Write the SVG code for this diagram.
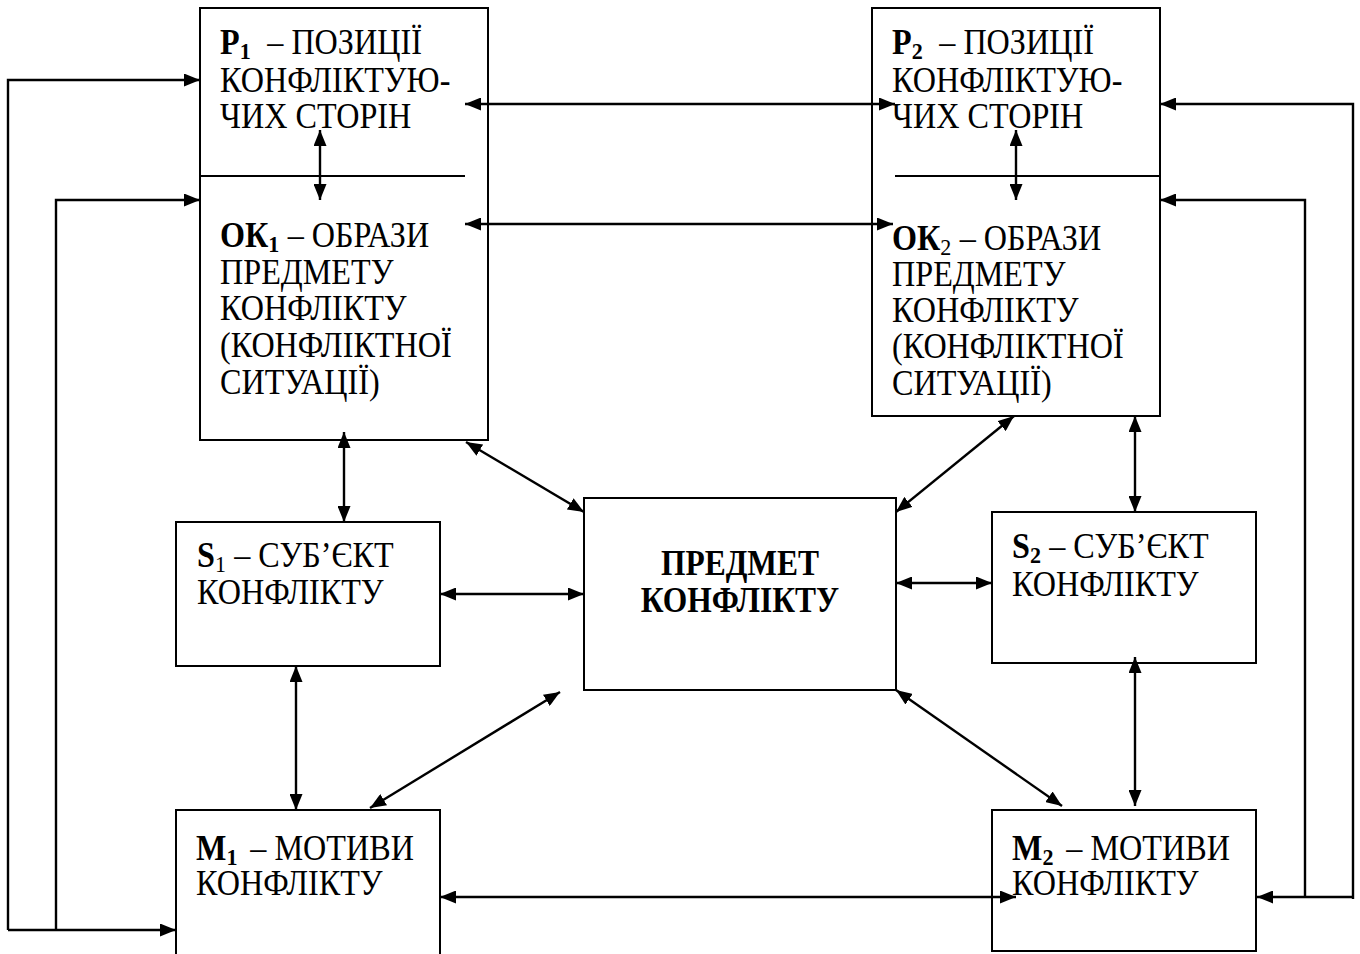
<svg xmlns="http://www.w3.org/2000/svg" width="1360" height="954" viewBox="0 0 1360 954">
<style>
.box{fill:#fff;stroke:#000;stroke-width:2}
.t{font-family:"Liberation Serif","Times New Roman",serif;font-size:35px;fill:#000}
.b{font-weight:bold}
.sub{font-size:24px}
.c{fill:none;stroke:#000;stroke-width:2.4}
.d{marker-start:url(#ah);marker-end:url(#ah)}
.e{marker-end:url(#ah)}
</style>
<defs>
<marker id="ah" markerUnits="userSpaceOnUse" markerWidth="16" markerHeight="13" refX="16" refY="6.5" orient="auto-start-reverse">
<path d="M0,0 L16,6.5 L0,13 z" fill="#000"/>
</marker>
</defs>
<rect width="1360" height="954" fill="#fff"/>

<g id="node-p1ok1">
<rect class="box" x="200" y="8" width="288" height="432"/>
<line x1="200" y1="176" x2="465" y2="176" stroke="#000" stroke-width="2"/>
<g transform="translate(220,0) scale(0.92,1)">
<text class="t" x="0" y="54"><tspan class="b">P</tspan><tspan class="b sub" dy="5">1</tspan><tspan dy="-5" dx="18">– ПОЗИЦІЇ</tspan></text>
<text class="t" x="0" y="92">КОНФЛІКТУЮ-</text>
<text class="t" x="0" y="128">ЧИХ СТОРІН</text>
<text class="t" x="0" y="247"><tspan class="b">ОК</tspan><tspan class="b sub" dy="5">1</tspan><tspan dy="-5" dx="9">– ОБРАЗИ</tspan></text>
<text class="t" x="0" y="284">ПРЕДМЕТУ</text>
<text class="t" x="0" y="320">КОНФЛІКТУ</text>
<text class="t" x="0" y="357">(КОНФЛІКТНОЇ</text>
<text class="t" x="0" y="394">СИТУАЦІЇ)</text>
</g>
</g>

<g id="node-p2ok2">
<rect class="box" x="872" y="8" width="288" height="408"/>
<line x1="895" y1="176" x2="1160" y2="176" stroke="#000" stroke-width="2"/>
<g transform="translate(892,0) scale(0.92,1)">
<text class="t" x="0" y="54"><tspan class="b">P</tspan><tspan class="b sub" dy="5">2</tspan><tspan dy="-5" dx="18">– ПОЗИЦІЇ</tspan></text>
<text class="t" x="0" y="92">КОНФЛІКТУЮ-</text>
<text class="t" x="0" y="128">ЧИХ СТОРІН</text>
<text class="t" x="0" y="250"><tspan class="b">ОК</tspan><tspan class="sub" dy="5">2</tspan><tspan dy="-5" dx="9">– ОБРАЗИ</tspan></text>
<text class="t" x="0" y="286">ПРЕДМЕТУ</text>
<text class="t" x="0" y="322">КОНФЛІКТУ</text>
<text class="t" x="0" y="358">(КОНФЛІКТНОЇ</text>
<text class="t" x="0" y="395">СИТУАЦІЇ)</text>
</g>
</g>

<g id="node-s1">
<rect class="box" x="176" y="522" width="264" height="144"/>
<g transform="translate(197,0) scale(0.92,1)">
<text class="t" x="0" y="567"><tspan class="b">S</tspan><tspan class="sub" dy="5">1</tspan><tspan dy="-5" dx="9">– СУБ’ЄКТ</tspan></text>
<text class="t" x="0" y="604">КОНФЛІКТУ</text>
</g>
</g>

<g id="node-predmet">
<rect class="box" x="584" y="498" width="312" height="192"/>
<g transform="translate(740,0) scale(0.9,1)">
<text class="t b" x="0" y="575" text-anchor="middle">ПРЕДМЕТ</text>
<text class="t b" x="0" y="612" text-anchor="middle">КОНФЛІКТУ</text>
</g>
</g>

<g id="node-s2">
<rect class="box" x="992" y="512" width="264" height="151"/>
<g transform="translate(1012,0) scale(0.92,1)">
<text class="t" x="0" y="558"><tspan class="b">S</tspan><tspan class="b sub" dy="5">2</tspan><tspan dy="-5" dx="9">– СУБ’ЄКТ</tspan></text>
<text class="t" x="0" y="596">КОНФЛІКТУ</text>
</g>
</g>

<g id="node-m1">
<rect class="box" x="176" y="810" width="264" height="146"/>
<g transform="translate(196,0) scale(0.92,1)">
<text class="t" x="0" y="860"><tspan class="b">M</tspan><tspan class="b sub" dy="5">1</tspan><tspan dy="-5" dx="14">– МОТИВИ</tspan></text>
<text class="t" x="0" y="895">КОНФЛІКТУ</text>
</g>
</g>

<g id="node-m2">
<rect class="box" x="992" y="810" width="264" height="141"/>
<g transform="translate(1012,0) scale(0.92,1)">
<text class="t" x="0" y="860"><tspan class="b">M</tspan><tspan class="b sub" dy="5">2</tspan><tspan dy="-5" dx="14">– МОТИВИ</tspan></text>
<text class="t" x="0" y="895">КОНФЛІКТУ</text>
</g>
</g>

<g id="connectors">
<path class="c d" d="M320,130 L320,200"/>
<path class="c d" d="M1016,130 L1016,200"/>
<path class="c d" d="M465,104 L895,104"/>
<path class="c d" d="M465,224 L893,224"/>
<path class="c e" d="M8,930 L8,80 L200,80"/>
<path class="c e" d="M8,930 L176,930"/>
<path class="c e" d="M56,930 L56,200 L200,200"/>
<path class="c e" d="M1353,899 L1353,104 L1160,104"/>
<path class="c e" d="M1353,897 L1257,897"/>
<path class="c e" d="M1305,897 L1305,200 L1160,200"/>
<path class="c d" d="M344,432 L344,522"/>
<path class="c d" d="M466,442 L584,512"/>
<path class="c d" d="M1014,416 L896,512"/>
<path class="c d" d="M1135,416 L1135,512"/>
<path class="c d" d="M440,594 L584,594"/>
<path class="c d" d="M896,583 L992,583"/>
<path class="c d" d="M296,666 L296,810"/>
<path class="c d" d="M370,808 L560,692"/>
<path class="c d" d="M896,690 L1062,806"/>
<path class="c d" d="M1135,657 L1135,806"/>
<path class="c d" d="M440,897 L1016,897"/>
</g>
</svg>
